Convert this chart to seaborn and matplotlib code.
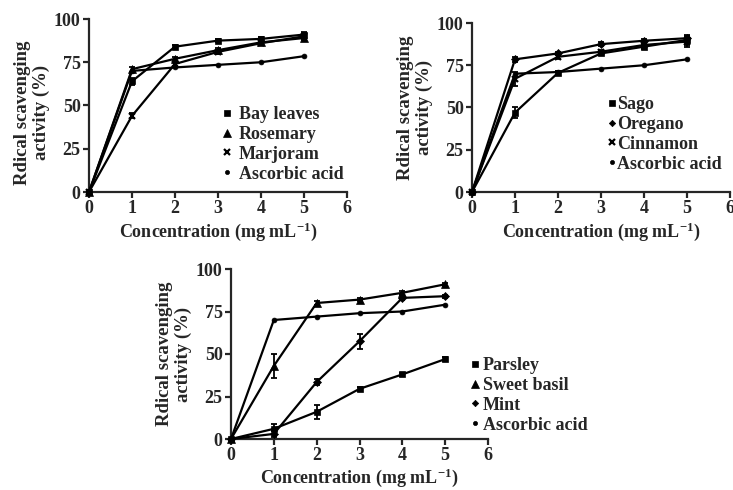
import numpy as np
import pandas as pd
import seaborn as sns
import matplotlib.pyplot as plt
from matplotlib.lines import Line2D

sns.set_style('ticks')
plt.rcParams['font.family'] = ['Liberation Serif', 'DejaVu Serif']
plt.rcParams['font.weight'] = 'bold'
plt.rcParams['axes.labelweight'] = 'bold'
plt.rcParams['mathtext.default'] = 'regular'

conc = [0, 1, 2, 3, 4, 5]

# panel 1
bay_leaves = [0, 64, 84, 87.5, 88.5, 91]
rosemary = [0, 71, 77, 82, 86.5, 89]
marjoram = [0, 44, 74, 81, 86, 90]
ascorbic_1 = [0, 70, 72, 73.5, 75, 78.5]

# panel 2
sago = [0, 47, 70.5, 82, 86, 90]
oregano = [0, 78.5, 82, 87.5, 89.5, 91]
cinnamon = [0, 67, 80, 83, 87, 89]
ascorbic_2 = [0, 70, 71, 73, 75, 78.5]

# panel 3
parsley = [0, 6, 16, 29.5, 38, 47]
sweet_basil = [0, 43, 80, 82, 86, 91]
mint = [0, 3, 33.5, 57.5, 83, 84]
ascorbic_3 = [0, 70, 72, 74, 75, 79]

# error bars (+/-)
err_bay = [0, 2, 1, 1, 1, 1.5]
err_ros = [0, 1.5, 1, 1, 1, 1]
err_mar = [0, 1.5, 1, 1, 1, 1]
err_sago = [0, 3, 1, 1, 1.5, 3]
err_ore = [0, 1.5, 1, 1, 1, 1.5]
err_cin = [0, 4, 1.5, 1, 1.5, 3]
err_par = [0, 3, 4, 1, 1, 1]
err_bas = [0, 7, 1, 1, 1, 1]
err_mint = [0, 2, 2, 4.5, 1.5, 1]

ms = {'s': 5, '^': 6, 'x': 5, 'o': 3.5, 'D': 3.8}
FS = 13


def draw_panel(ax, names, series, errs, markers, leg_xy, hl, tp, ylab_y, xpad):
    for name, vals, err, mk in zip(names, series, errs, markers):
        df = pd.DataFrame({'conc': conc, 'act': vals})
        sns.lineplot(data=df, x='conc', y='act', ax=ax, color='black',
                     lw=1.6, marker=mk, ms=ms[mk], mew=1.6 if mk == 'x' else 0.5,
                     mec='black', clip_on=False, zorder=3)
        if err is not None:
            ax.errorbar(conc, vals, yerr=err, fmt='none', ecolor='black',
                        elinewidth=1.3, capsize=2.5, capthick=1.3, clip_on=False)
    ax.set_xlim(0, 6)
    ax.set_ylim(0, 100)
    ax.set_xticks(range(7))
    ax.set_yticks([0, 25, 50, 75, 100])
    sns.despine(ax=ax)
    for s in ['left', 'bottom']:
        ax.spines[s].set_linewidth(1.6)
    ax.tick_params(width=1.6, length=4, labelsize=FS, pad=2)
    for t in ax.get_xticklabels() + ax.get_yticklabels():
        t.set_fontweight('bold')
    ax.set_xlabel('Concentration (mg mL$^{-1}$)', fontsize=FS, labelpad=xpad)
    ax.set_ylabel('Rdical scavenging\nactivity (%)', fontsize=FS + 0.5,
                  linespacing=1.1)
    ax.yaxis.set_label_coords(-0.152, ylab_y)
    handles = [Line2D([], [], ls='none', marker=mk, color='black',
                      ms=ms[mk] * 0.85, mew=1.6 if mk == 'x' else 0.5)
               for mk in markers]
    ax.legend(handles, names, loc='upper left', frameon=False,
              bbox_to_anchor=(leg_xy[0] / 733, 1 - leg_xy[1] / 490),
              bbox_transform=ax.figure.transFigure, borderpad=0,
              borderaxespad=0, handlelength=hl, handletextpad=tp,
              labelspacing=0.16, prop={'size': FS, 'weight': 'bold'})


fig = plt.figure(figsize=(7.33, 4.9), dpi=100)
ax1 = fig.add_axes([89 / 733, 1 - 192 / 490, 258 / 733, 173 / 490])
ax2 = fig.add_axes([472 / 733, 1 - 192 / 490, 258 / 733, 169 / 490])
ax3 = fig.add_axes([231 / 733, 1 - 439 / 490, 257 / 733, 170 / 490])

draw_panel(ax1, ['Bay leaves', 'Rosemary', 'Marjoram', 'Ascorbic acid'],
           [bay_leaves, rosemary, marjoram, ascorbic_1],
           [err_bay, err_ros, err_mar, None], ['s', '^', 'x', 'o'],
           (220, 106), 0.75, 0.3, 0.46, 2)
draw_panel(ax2, ['Sago', 'Oregano', 'Cinnamon', 'Ascorbic acid'],
           [sago, oregano, cinnamon, ascorbic_2],
           [err_sago, err_ore, err_cin, None], ['s', 'D', 'x', 'o'],
           (608, 96), 0.45, 0.05, 0.5, 2)
draw_panel(ax3, ['Parsley', 'Sweet basil', 'Mint', 'Ascorbic acid'],
           [parsley, sweet_basil, mint, ascorbic_3],
           [err_par, err_bas, err_mint, None], ['s', '^', 'D', 'o'],
           (470, 357), 0.6, 0.12, 0.5, 1.5)

fig.savefig('out.png', dpi=100)
